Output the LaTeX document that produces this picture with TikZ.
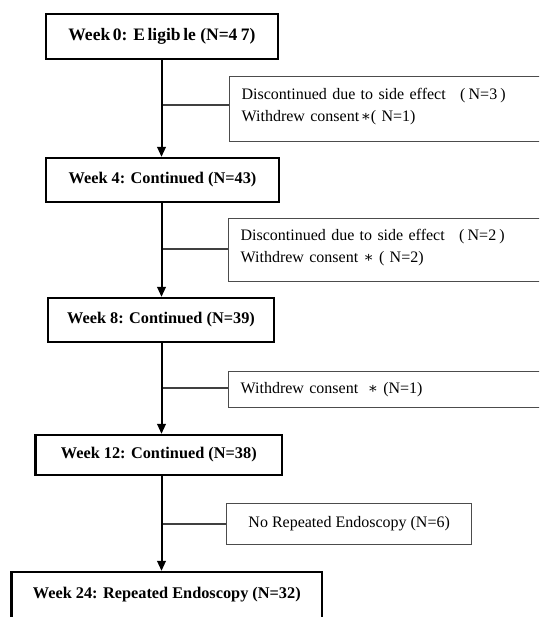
\documentclass[tikz,border=0pt]{standalone}
\usepackage{fontspec}
\setmainfont{Liberation Serif}
\newfontfamily\astfont{DejaVu Serif}
\usetikzlibrary{arrows.meta}
\newcommand{\bigast}{{\astfont\fontsize{15}{16}\selectfont ∗}}
\newcommand{\twolines}[2]{\raisebox{3.5pt}[\height][\depth]{\begin{tabular}{@{}l@{}}#1\\#2\end{tabular}}}
\begin{document}
\begin{tikzpicture}[x=1pt,y=-1pt,
  mainbox/.style={draw, line width=2.2pt, inner sep=0pt,
    font=\fontsize{16.3}{19}\selectfont\bfseries},
  sidebox/.style={draw=black!70, line width=1.3pt, anchor=north west, inner ysep=0pt},
  sidetext/.style={sidebox, inner xsep=12pt, text width=316pt, align=left,
    font=\fontsize{16}{22}\selectfont},
  flow/.style={line width=2pt, -{Triangle[length=10pt,width=8.5pt]}},
  branch/.style={line width=1.1pt, draw=black!75}]
\useasboundingbox (0,0) rectangle (539,617);
\clip (0,0) rectangle (539,617);
\coordinate (spine) at (161.5,0);
% main boxes
\node[mainbox, minimum width=232pt, minimum height=45pt, font=\fontsize{17.5}{20}\selectfont\bfseries] (w0) at (162,36.5) {Week\hspace{-0.1em} 0: E\hspace{0.15em}ligib\hspace{0.15em}le (N=4\hspace{0.2em}7)};
\node[mainbox, minimum width=233pt, minimum height=44pt] (w4) at (162.5,180) {Week 4: Continued (N=43)};
\node[mainbox, minimum width=226pt, minimum height=44pt] (w8) at (161,320) {Week 8: Continued (N=39)};
\node[mainbox, minimum width=246.5pt, minimum height=40pt] (w12) at (158.8,455) {Week 12: Continued (N=38)};
\node[mainbox, minimum width=310.5pt, minimum height=46pt] (w24) at (166.8,595) {Week 24: Repeated Endoscopy (N=32)};
% side boxes
\node[sidetext, minimum height=65pt] (s1) at (229,76) {\twolines{Discontinued due to side effect\hspace{0.9em}(\hspace{0.2em}N=3\hspace{0.2em})}{Withdrew consent\hspace{0.1em}\bigast( N=1)}};
\node[sidetext, minimum height=63pt] (s2) at (228,218) {\twolines{Discontinued due to side effect\hspace{0.9em}(\hspace{0.2em}N=2\hspace{0.2em})}{Withdrew consent \bigast\ ( N=2)}};
\node[sidetext, minimum height=36pt] (s3) at (228,371) {Withdrew consent\hspace{0.6em}\bigast\ (N=1)};
\node[sidebox, inner xsep=0pt, minimum width=245pt, minimum height=41pt, font=\fontsize{16}{19}\selectfont] (s4) at (226,503) {No Repeated Endoscopy (N=6)};
% junctions on the spine
\coordinate (j1) at (161.5,105);
\coordinate (j2) at (161.5,249);
\coordinate (j3) at (161.5,388);
\coordinate (j4) at (161.5,524);
% branches
\draw[branch] (j1) -- (j1 -| s1.west);
\draw[branch] (j2) -- (j2 -| s2.west);
\draw[branch] (j3) -- (j3 -| s3.west);
\draw[branch] (j4) -- (j4 -| s4.west);
% flow arrows
\draw[flow] (w0.south -| spine) -- (w4.north -| spine);
\draw[flow] (w4.south -| spine) -- (w8.north -| spine);
\draw[flow] (w8.south -| spine) -- (w12.north -| spine);
\draw[flow] (w12.south -| spine) -- (w24.north -| spine);
\end{tikzpicture}
\end{document}
